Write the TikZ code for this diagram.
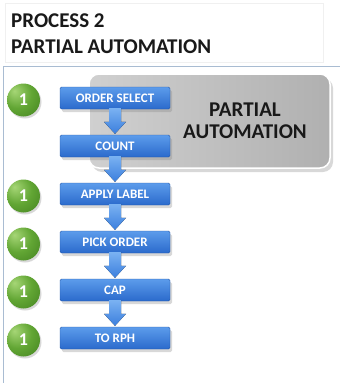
\documentclass[tikz,border=0pt]{standalone}
\usepackage{fontspec}
\setmainfont{Carlito}
\usetikzlibrary{shadows,calc}
\definecolor{blueT}{HTML}{5C9CEB}
\definecolor{blueB}{HTML}{2B6ACC}
\definecolor{arrT}{HTML}{7AB2F2}
\definecolor{arrB}{HTML}{3B7EDD}
\definecolor{gL}{HTML}{A6D676}
\definecolor{gM}{HTML}{62A634}
\definecolor{gD}{HTML}{3C7A1C}
\definecolor{gDD}{HTML}{2F6416}
\definecolor{panelborder}{HTML}{A9BCD2}
\definecolor{grayL}{HTML}{D0D0D0}
\definecolor{grayR}{HTML}{B0B0B0}
\pgfdeclareradialshading{gballshade}{\pgfpoint{-14bp}{14bp}}{color(0bp)=(gL); color(22bp)=(gM); color(50bp)=(gD); color(75bp)=(gDD)}
\begin{document}
\begin{tikzpicture}[x=1pt,y=-1pt,
  stepbox/.style={minimum width=110pt,minimum height=22pt,inner sep=0pt,
    rounded corners=1.5pt,top color=blueT,bottom color=blueB,draw=blueB!85!black,
    drop shadow={shadow xshift=2pt,shadow yshift=-3pt,opacity=0.3},
    font=\bfseries\fontsize{13}{15}\selectfont,text=white},
  numball/.style={circle,minimum size=33pt,inner sep=0pt,shading=gballshade,
    drop shadow={shadow xshift=1.5pt,shadow yshift=-2pt,opacity=0.3},
    font=\bfseries\fontsize{18}{20}\selectfont,text=white},
  downarr/.style={top color=arrT,bottom color=arrB,draw=none},
  title/.style={anchor=base west,inner sep=0pt,font=\bfseries\fontsize{21}{25}\selectfont,text=black!90}
]
\useasboundingbox (0,0) rectangle (340,383);
\fill[white] (0,0) rectangle (340,383);
% title box
\draw[black!6,fill=white] (5,3) rectangle (323,62);
\node[title] (t1) at (11,27) {PROCESS 2};
\node[title] (t2) at (11,53) {PARTIAL AUTOMATION};
% panel
\draw[panelborder,line width=1pt,fill=white] (3,66) rectangle (350,395);
% gray box
\node[draw=white,line width=1.5pt,rounded corners=10pt,left color=grayL,right color=grayR,
  minimum width=241pt,minimum height=94pt,inner sep=0pt,
  drop shadow={shadow xshift=3pt,shadow yshift=-4pt,opacity=0.3}] (gb) at (209.5,121) {};
\node[font=\bfseries\fontsize{21}{25}\selectfont,text=black!90,align=center,inner sep=0pt] (gt) at (245,121) {PARTIAL\\[-3pt]AUTOMATION};
% steps
\node[stepbox] (b1) at (115,98) {ORDER SELECT};
\node[stepbox] (b2) at (115,146) {COUNT};
\node[stepbox] (b3) at (115,194) {APPLY LABEL};
\node[stepbox] (b4) at (115,242) {PICK ORDER};
\node[stepbox] (b5) at (115,290) {CAP};
\node[stepbox] (b6) at (115,338) {TO RPH};
% balls
\node[numball] (n1) at (23.5,100) {1};
\node[numball] (n3) at (23.5,196) {1};
\node[numball] (n4) at (23.5,244) {1};
\node[numball] (n5) at (23.5,292) {1};
\node[numball] (n6) at (23.5,340) {1};
% arrows
\foreach \a/\b in {b1/b2,b2/b3,b3/b4,b4/b5,b5/b6}{
  \fill[downarr] ([xshift=-6pt,yshift=1pt]\a.south) -- ([xshift=-6pt,yshift=13pt]\b.north)
    -- ([xshift=-11pt,yshift=13pt]\b.north) -- ([yshift=1pt]\b.north)
    -- ([xshift=11pt,yshift=13pt]\b.north) -- ([xshift=6pt,yshift=13pt]\b.north)
    -- ([xshift=6pt,yshift=1pt]\a.south) -- cycle;
}
\end{tikzpicture}
\end{document}
